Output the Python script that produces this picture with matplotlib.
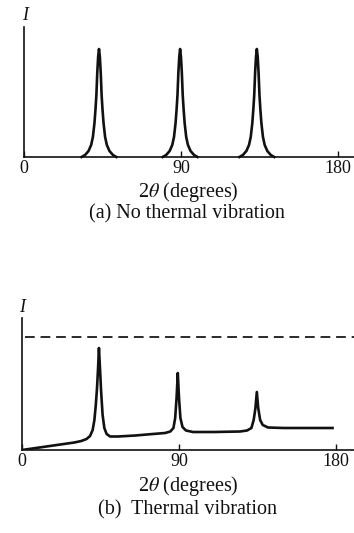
import matplotlib
matplotlib.use("Agg")
import matplotlib.pyplot as plt

plt.rcParams['font.family'] = ['Liberation Serif', 'DejaVu Serif']
plt.rcParams['mathtext.fontset'] = 'stix'

# (a) no thermal vibration: three sharp peaks
peak1_x = [33, 35, 37, 38.5, 39.5, 40.4, 41, 41.5, 42, 42.5, 43,
           43.5, 44, 44.5, 45, 45.6, 46.5, 47.5, 49, 51, 53]
peak1_y = [0, 2, 6, 12, 20, 34, 48, 62, 84, 100, 108,
           100, 84, 62, 48, 34, 20, 12, 6, 2, 0]
peak2_x = [79.5, 81.5, 83.5, 85, 86, 86.9, 87.5, 88, 88.5, 89, 89.5,
           90, 90.5, 91, 91.5, 92.1, 93, 94, 95.5, 97.5, 99.5]
peak2_y = [0, 2, 6, 12, 20, 34, 48, 62, 84, 100, 108,
           100, 84, 62, 48, 34, 20, 12, 6, 2, 0]
peak3_x = [123.5, 125.5, 127.5, 129, 130, 130.9, 131.5, 132, 132.5, 133, 133.5,
           134, 134.5, 135, 135.5, 136.1, 137, 138, 139.5, 141.5, 143.5]
peak3_y = [0, 2, 6, 12, 20, 34, 48, 62, 84, 100, 108,
           100, 84, 62, 48, 34, 20, 12, 6, 2, 0]

# (b) thermal vibration: weaker peaks on a rising background
therm_x = [0, 10, 20, 30, 34, 37, 39, 40.5, 41.5, 42.3, 43, 43.6, 44.1,
           44.7, 45.3, 46.2, 47.2, 48.5, 50.5, 55, 65, 75, 82, 85, 86.8,
           87.8, 88.6, 89.3, 90, 90.8, 92, 94, 98, 110, 125, 129, 131.5,
           132.8, 133.8, 134.6, 135.4, 136.5, 138, 141, 150, 165, 178]
therm_y = [0, 2.5, 5, 7.5, 9, 11, 14, 20, 30, 45, 62, 82, 102,
           82, 60, 35, 22, 16, 13.5, 13.5, 14.5, 16, 17, 18.5, 22,
           32, 52, 77, 52, 32, 23, 19.5, 18, 18, 18.5, 19.5, 22,
           30, 42, 58, 42, 30, 25, 22.5, 22, 22, 22]
no_vib_level = 113

ticks = [0, 90, 180]
tick_labels = ['0', '90', '180']

W, H = 354, 533
fig = plt.figure(figsize=(W / 100, H / 100), dpi=100)
ink = '#111111'


def make_axes(left_px, base_px, top_px, xmax):
    ax = fig.add_axes([left_px / W, 1 - base_px / H,
                       (W - left_px) / W, (base_px - top_px) / H])
    ax.set_xlim(0, xmax)
    ax.set_ylim(0, base_px - top_px)
    for s in ['top', 'right']:
        ax.spines[s].set_visible(False)
    for s in ['left', 'bottom']:
        ax.spines[s].set_linewidth(1.2)
        ax.spines[s].set_color(ink)
    ax.set_yticks([])
    ax.set_xticks(ticks)
    ax.set_xticklabels(tick_labels, fontsize=13, color=ink)
    ax.tick_params(axis='x', direction='in', length=4, width=1, pad=2.5, colors=ink)
    return ax


ax1 = make_axes(24, 157, 27, 189.2)
for px, py in [(peak1_x, peak1_y), (peak2_x, peak2_y), (peak3_x, peak3_y)]:
    ax1.plot(px, py, color=ink, lw=1.9, solid_joinstyle='round', clip_on=False)

ax2 = make_axes(22, 450, 318, 190.3)
ax2.plot(therm_x, therm_y, color=ink, lw=1.9, solid_joinstyle='round')
ax2.axhline(no_vib_level, xmin=0.01, color='#2a2a2a', lw=1.4, dashes=(5, 3))

fig.text(25 / W, 1 - 15 / H, 'I', fontsize=13, style='italic', ha='center', va='center', color=ink)
fig.text(22 / W, 1 - 307 / H, 'I', fontsize=13, style='italic', ha='center', va='center', color=ink)
fig.text(188 / W, 1 - 192 / H, r'2$\theta$ (degrees)', fontsize=14.5, ha='center', va='center', color=ink)
fig.text(187 / W, 1 - 214 / H, '(a) No thermal vibration', fontsize=14.5, ha='center', va='center', color=ink)
fig.text(188 / W, 1 - 486 / H, r'2$\theta$ (degrees)', fontsize=14.5, ha='center', va='center', color=ink)
fig.text(187.5 / W, 1 - 510 / H, '(b)  Thermal vibration', fontsize=14.5, ha='center', va='center', color=ink)

fig.savefig('out.png', dpi=100)
